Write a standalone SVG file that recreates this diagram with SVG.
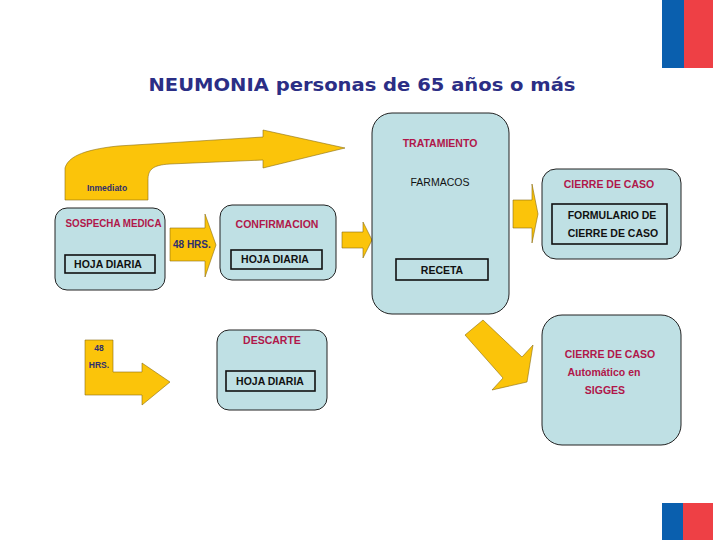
<svg xmlns="http://www.w3.org/2000/svg" width="720" height="540" viewBox="0 0 720 540">
<style>
.box{fill:#bfe0e4;stroke:#222;stroke-width:1}
.inner{fill:none;stroke:#111;stroke-width:1.6}
.arrow{fill:#fbc40a;stroke:#8a6d10;stroke-width:0.6}
.h{font-family:"Liberation Sans",Arial,sans-serif;font-weight:bold;font-size:10.5px;fill:#b0174a;text-anchor:middle}
.b{font-family:"Liberation Sans",Arial,sans-serif;font-weight:bold;font-size:10.5px;fill:#111;text-anchor:middle}
.n{font-family:"Liberation Sans",Arial,sans-serif;font-weight:bold;fill:#2e2f6e}
</style>
<rect width="720" height="540" fill="#fff"/>
<!-- flags -->
<rect x="662" y="0" width="22" height="68" fill="#0a5fae"/>
<rect x="684" y="0" width="29" height="68" fill="#ee4045"/>
<rect x="662" y="503" width="21" height="37" fill="#0a5fae"/>
<rect x="683" y="503" width="30" height="37" fill="#ee4045"/>
<text x="362" y="91" font-family="'DejaVu Sans',Verdana,sans-serif" font-weight="bold" font-size="18" fill="#2b2e85" text-anchor="middle" textLength="427" lengthAdjust="spacingAndGlyphs">NEUMONIA personas de 65 años o más</text>

<g id="connectors">
<path class="arrow" d="M65,200 L65,168 C68,158 80,150 118,146 L263,137 L263,130 L345,148 L263,168 L263,160 L170,164 C152,165 148,170 148,180 L148,200 Z"/>
<text class="n" x="87" y="191" font-size="8.5">Inmediato</text>
<path class="arrow" d="M170,228 L205,228 L205,214 L216,245 L205,277 L205,261 L170,261 Z"/>
<text class="n" x="173" y="248" font-size="10">48 HRS.</text>
<path class="arrow" d="M342,232 L363,232 L363,222 L372,240 L363,258 L363,248 L342,248 Z"/>
<path class="arrow" d="M513,200 L532,200 L532,184 L538,214 L532,243 L532,228 L513,228 Z"/>
<path class="arrow" d="M85,340 L113,340 L113,372 L142,372 L142,363 L170,382 L142,405 L142,395 L85,395 Z"/>
<text class="n" x="99" y="351" font-size="8.5" text-anchor="middle">48</text>
<text class="n" x="99" y="368" font-size="8.5" text-anchor="middle">HRS.</text>
<path class="arrow" d="M483,320 L522,357 L533,345 L527,382 L492,390 L503,378 L465,335 Z"/>
</g>

<g id="sospecha">
<rect class="box" x="55" y="208" width="110" height="82" rx="12"/>
<text class="h" x="113.5" y="227" font-size="9.8" textLength="96" lengthAdjust="spacingAndGlyphs">SOSPECHA MEDICA</text>
<rect class="inner" x="65" y="255" width="90" height="18"/>
<text class="b" x="108" y="268">HOJA DIARIA</text>
</g>

<g id="confirmacion">
<rect class="box" x="220" y="205" width="116" height="75" rx="12"/>
<text class="h" x="277" y="228">CONFIRMACION</text>
<rect class="inner" x="231" y="250" width="91" height="19"/>
<text class="b" x="275" y="263">HOJA DIARIA</text>
</g>

<g id="tratamiento">
<rect class="box" x="372" y="113" width="137" height="201" rx="20"/>
<text class="h" x="440" y="147">TRATAMIENTO</text>
<text x="440" y="186" font-family="'Liberation Sans',Arial,sans-serif" font-size="10.5" fill="#111" text-anchor="middle">FARMACOS</text>
<rect class="inner" x="396" y="259" width="92" height="21"/>
<text class="b" x="442" y="274">RECETA</text>
</g>

<g id="cierre1">
<rect class="box" x="542" y="169" width="139" height="90" rx="14"/>
<text class="h" x="609" y="188">CIERRE DE CASO</text>
<rect class="inner" x="552" y="204" width="115" height="40"/>
<text class="b" x="612" y="219">FORMULARIO DE</text>
<text class="b" x="613" y="237">CIERRE DE CASO</text>
</g>

<g id="descarte">
<rect class="box" x="217" y="330" width="110" height="80" rx="12"/>
<text class="h" x="272" y="344">DESCARTE</text>
<rect class="inner" x="226" y="371" width="89" height="20"/>
<text class="b" x="270" y="385">HOJA DIARIA</text>
</g>

<g id="cierre2">
<rect class="box" x="542" y="315" width="139" height="130" rx="20"/>
<text class="h" x="610" y="358" font-size="10">CIERRE DE CASO</text>
<text class="h" x="604" y="376" font-size="9">Automático en</text>
<text class="h" x="605" y="394" font-size="9">SIGGES</text>
</g>
</svg>
